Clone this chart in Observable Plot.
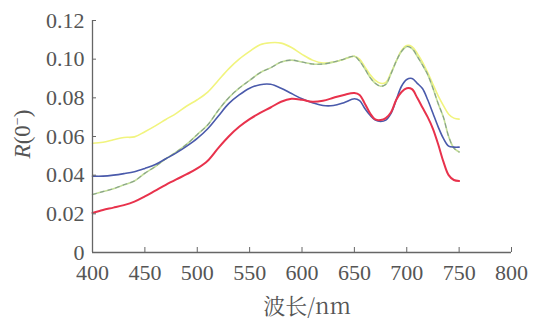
<!DOCTYPE html>
<html>
<head>
<meta charset="utf-8">
<script src="https://cdn.jsdelivr.net/npm/d3@7"></script>
<script src="https://cdn.jsdelivr.net/npm/@observablehq/plot@0.6"></script>
<style>
  html, body { margin: 0; padding: 0; background: #fff; }
  #chart { width: 538px; height: 321px; }
</style>
</head>
<body>
<div id="chart"></div>
<script>
const wavelengths = [400,410,420,430,440,450,460,470,480,490,500,510,520,530,540,550,560,570,580,590,600,610,620,630,640,650,
  655,660,665,670,675,680,685,690,695,700,705,710,715,720,725,730,735,740,745,750];

const yellowR = [0.0565,0.0570,0.0583,0.0595,0.0598,0.0625,0.0655,0.0688,0.0720,0.0758,0.0790,0.0830,0.0890,0.0950,0.1000,0.1040,0.1075,0.1085,0.1083,0.1060,0.1025,0.0995,0.0980,0.0985,0.1000,0.1015,
  0.1000,0.0960,0.0920,0.0890,0.0875,0.0880,0.0930,0.0990,0.1045,0.1070,0.1065,0.1030,0.0985,0.0930,0.0870,0.0810,0.0760,0.0715,0.0695,0.0690];

const greenR = [0.0300,0.0315,0.0330,0.0350,0.0370,0.0410,0.0445,0.0485,0.0520,0.0560,0.0610,0.0660,0.0735,0.0800,0.0850,0.0890,0.0930,0.0955,0.0985,0.0995,0.0985,0.0975,0.0975,0.0985,0.1000,0.1015,
  0.0990,0.0950,0.0905,0.0875,0.0860,0.0870,0.0925,0.0990,0.1040,0.1065,0.1055,0.1015,0.0970,0.0920,0.0850,0.0770,0.0700,0.0600,0.0540,0.0520];

const blueR = [0.0395,0.0395,0.0400,0.0408,0.0418,0.0435,0.0455,0.0485,0.0515,0.0550,0.0590,0.0640,0.0705,0.0770,0.0815,0.0850,0.0868,0.0870,0.0850,0.0822,0.0795,0.0775,0.0760,0.0760,0.0775,0.0795,
  0.0785,0.0745,0.0710,0.0685,0.0678,0.0685,0.0720,0.0790,0.0860,0.0895,0.0900,0.0875,0.0848,0.0790,0.0720,0.0650,0.0590,0.0550,0.0545,0.0545];

const redR = [0.0205,0.0220,0.0232,0.0245,0.0263,0.0290,0.0320,0.0350,0.0378,0.0405,0.0435,0.0475,0.0540,0.0600,0.0650,0.0690,0.0722,0.0750,0.0780,0.0795,0.0790,0.0780,0.0785,0.0800,0.0815,0.0825,
  0.0815,0.0770,0.0720,0.0688,0.0685,0.0695,0.0725,0.0790,0.0830,0.0850,0.0845,0.0800,0.0750,0.0700,0.0640,0.0560,0.0470,0.0400,0.0375,0.0370];

const xTicks = [400,450,500,550,600,650,700,750,800];
const yTicks = [0,0.02,0.04,0.06,0.08,0.10,0.12];
const xLabel = "波长/nm";

const toRows = (vals) => wavelengths.map((w, i) => ({w, r: vals[i]}));
const yellow = toRows(yellowR), green = toRows(greenR), blue = toRows(blueR), red = toRows(redR);

const curve = "catmull-rom";
const SERIF = "'Liberation Serif', 'Times New Roman', serif";

const plot = Plot.plot({
  width: 538,
  height: 321,
  marginLeft: 92,
  marginRight: 27,
  marginTop: 20,
  marginBottom: 69,
  style: {fontSize: "23px", color: "#555", background: "#fff", fontFamily: SERIF},
  x: {domain: [400, 800]},
  y: {domain: [0, 0.12]},
  marks: [
    Plot.line(yellow, {x: "w", y: "r", stroke: "#f1f47e", strokeWidth: 1.6, curve}),
    Plot.line(green, {x: "w", y: "r", stroke: "#c3de98", strokeWidth: 1.6, curve}),
    Plot.line(green, {x: "w", y: "r", stroke: "#86a08c", strokeWidth: 1.1, strokeDasharray: "4,4", curve}),
    Plot.line(blue, {x: "w", y: "r", stroke: "#4a5aab", strokeWidth: 1.6, curve}),
    Plot.line(red, {x: "w", y: "r", stroke: "#e8324c", strokeWidth: 2, curve}),
    Plot.ruleY([0], {stroke: "#666", strokeWidth: 1.3}),
    Plot.ruleX([400], {stroke: "#666", strokeWidth: 1.3}),
    Plot.axisX({ticks: xTicks, tickSize: -5, tickPadding: 17, stroke: "#666", label: null, fill: "#555", fontSize: 23, tickFormat: d => String(d)}),
    Plot.axisY({ticks: yTicks, tickSize: -4, tickPadding: 12, stroke: "#666", label: null, fill: "#555", fontSize: 23, tickFormat: d => d === 0 ? "0" : d.toFixed(2)})
  ]
});

document.getElementById("chart").appendChild(plot);

const svg = d3.select(plot);
svg.selectAll("text").style("font-family", SERIF).style("font-size", "22px");

// x axis title
svg.append("text")
  .attr("x", 307)
  .attr("y", 314)
  .attr("text-anchor", "middle")
  .attr("fill", "#555")
  .style("font-size", "22px")
  .style("font-family", "'Noto Serif CJK SC', 'Noto Sans CJK SC', serif")
  .text(xLabel);

// y axis title  R(0⁻)
const yt = svg.append("text")
  .attr("transform", "translate(30,134) rotate(-90)")
  .attr("text-anchor", "middle")
  .attr("fill", "#555")
  .style("font-size", "23px")
  .style("font-family", SERIF);
yt.append("tspan").attr("font-style", "italic").text("R");
yt.append("tspan").text("(0");
yt.append("tspan").attr("dy", "-8").style("font-size", "14px").text("−");
yt.append("tspan").attr("dy", "8").text(")");
</script>
</body>
</html>
